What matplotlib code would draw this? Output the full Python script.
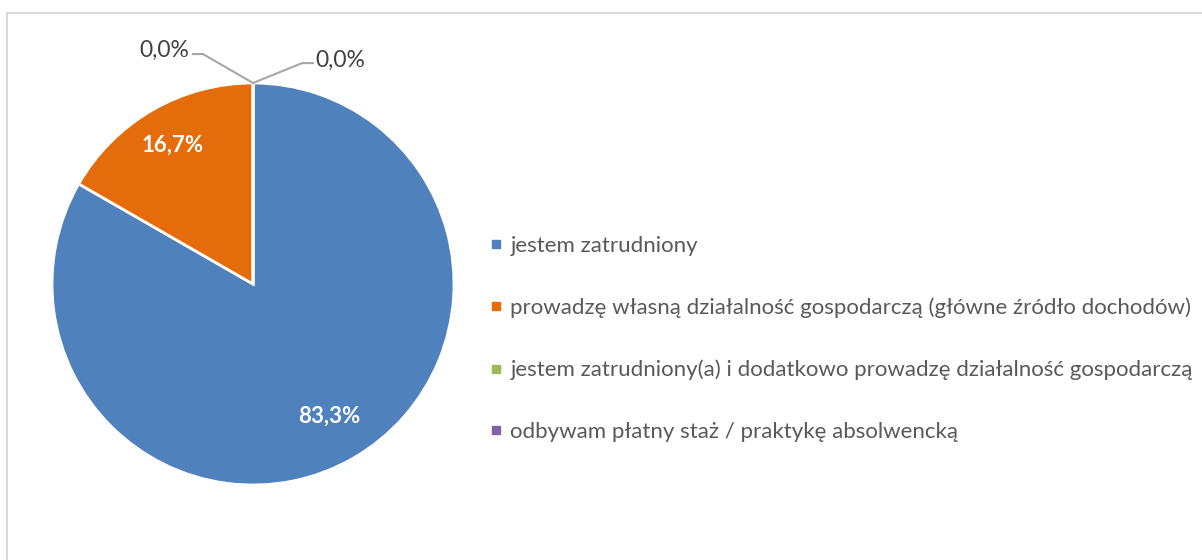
import numpy as np
import matplotlib
matplotlib.use("Agg")
import matplotlib.pyplot as plt
from matplotlib.lines import Line2D

plt.rcParams['font.family'] = ['Lato', 'DejaVu Sans']

# dane
categories = ['jestem zatrudniony',
              'prowadzę własną działalność gospodarczą (główne źródło dochodów)',
              'jestem zatrudniony(a) i dodatkowo prowadzę działalność gospodarczą',
              'odbywam płatny staż / praktykę absolwencką']
values = [83.3, 16.7, 0.0, 0.0]
pct_labels = ['83,3%', '16,7%', '0,0%', '0,0%']
colors = ['#4F81BD', '#E46C0A', '#9BBB59', '#8064A2']

W, H = 1202, 560
fig = plt.figure(figsize=(W / 100, H / 100), dpi=100)

# ramka wykresu (lewa i górna krawędź)
fig.add_artist(Line2D([7 / W, 7 / W], [0, 1 - 13 / H], transform=fig.transFigure,
                      color='#D9D9D9', lw=1.5))
fig.add_artist(Line2D([7 / W, 1], [1 - 13 / H, 1 - 13 / H], transform=fig.transFigure,
                      color='#D9D9D9', lw=1.5))

R = 201
cx, cy = 253, 560 - 284
ax = fig.add_axes([(cx - R) / W, (cy - R) / H, 2 * R / W, 2 * R / H])

wedges, _ = ax.pie(values, colors=colors, startangle=90, counterclock=False,
                   wedgeprops=dict(edgecolor='white', linewidth=2))
ax.set_xlim(-1, 1)
ax.set_ylim(-1, 1)
ax.set_aspect('equal')
ax.axis('off')

# etykiety procentowe
dists = [0.76, 0.80]
for w, lab, d in zip(wedges[:2], pct_labels[:2], dists):
    ang = np.deg2rad((w.theta1 + w.theta2) / 2)
    ax.text(d * np.cos(ang), d * np.sin(ang), lab, ha='center', va='center',
            color='white', fontsize=16, fontweight='bold')

# etykiety 0,0% z liniami odniesienia
tip_ang = np.deg2rad(wedges[2].theta1)
tx, ty = np.cos(tip_ang), np.sin(tip_ang)
lc = '#A6A6A6'
ax.plot([tx, tx - 0.249, tx - 0.299], [ty, ty + 0.144, ty + 0.144],
        color=lc, lw=1.5, clip_on=False)
ax.text(tx - 0.315, ty + 0.16, pct_labels[2], ha='right', va='center',
        color='#404040', fontsize=16.5)
ax.plot([tx, tx + 0.244, tx + 0.299], [ty, ty + 0.099, ty + 0.099],
        color=lc, lw=1.5, clip_on=False)
ax.text(tx + 0.31, ty + 0.115, pct_labels[3], ha='left', va='center',
        color='#404040', fontsize=16.5)

# legenda
handles = [Line2D([], [], marker='s', ls='', markersize=6, color=c) for c in colors]
fig.legend(handles, categories, loc='center left', bbox_to_anchor=(467 / W, 1 - 339 / H),
           frameon=False, fontsize=16, labelspacing=1.87, handletextpad=0.25,
           handlelength=0.8, labelcolor='#595959')

fig.savefig('out.png', dpi=100)
